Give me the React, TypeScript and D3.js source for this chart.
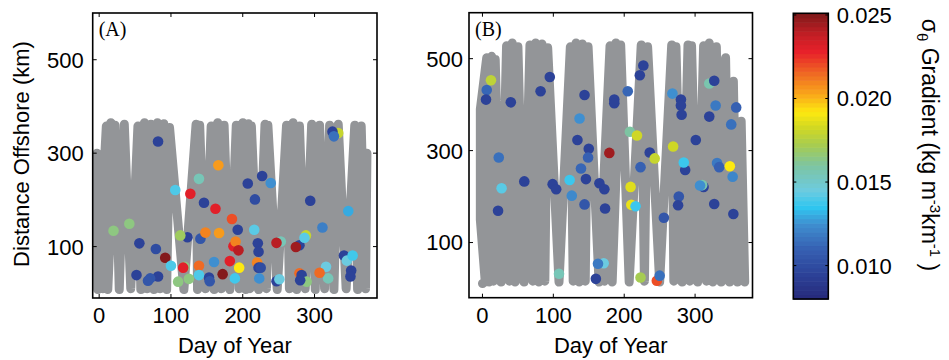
import React from "react";
import * as d3 from "d3";

// ---------- data ----------
const xTicks = [0, 100, 200, 300];
const yTicks = [100, 300, 500];
const cTicks = [0.01, 0.015, 0.02, 0.025];

// colour map (jet-like) stops
const cStops = [0.008, 0.0095, 0.011, 0.0125, 0.0135, 0.0145, 0.016, 0.0172, 0.0183, 0.0192, 0.0203, 0.0215, 0.0228, 0.0238, 0.0251];
const cColors = ["#27297a", "#2c4298", "#3660b2", "#3f8fd0", "#2fc6f0", "#6ccbe0", "#7dc4a2", "#a6cc52", "#d2d822", "#fde910", "#f9a51a", "#ef6a23", "#e8212a", "#c41e25", "#7f1a1a"];

// glider tracks (day, km) ; NaN = break
const trackADay = [-3, -2, 10, 5, 16, 12, 22, 28, 35, 44, 54, 58, 63, 67, 72, 76, 81, 85, 90, 94, 98, 118, 135, 137, 140, 148, 156, 160, 165, 170, 174, 182, 191, 195, 200, 204, 208, 210, 212, 222, 231, 233, 235, 248, 261, 265, 270, 275, 279, 287, 296, 301, 307, 314, 321, 327, 333, 344, 356, 360, 365, 371, 373];
const trackADist = [300, 8, 358, 10, 365, 8, 360, 8, 362, 10, 358, 8, 365, 10, 362, 8, 365, 10, 363, 8, 355, 8, 362, 8, 360, 10, 358, 8, 365, 10, 360, 8, 360, 10, 365, 8, 363, 10, 358, 8, 362, 10, 360, 8, 360, 10, 365, 8, 358, 10, 362, 8, 360, 10, 360, 8, 362, 10, 360, 8, 358, 10, 300];

const trackBDay = [0, 0.3, NaN, 4, -3, -3, 6, 9.5, 13, 15.5, 18, 26, 34, 38, 42, 46, 50, 58.5, 67, 71, 75, 79.5, 84, 88, 92, 108, 124, 128, 132, 136.5, 141, 145, 149, 164.5, 180, 172, 188, 183, 195, 207, 224, 228.5, 233, 250, 267, 270, 273, 281.5, 290, 292.5, 295, 303.5, 312, 316, 320, 325, 330, 336.5, 343, 348.5, 354, 359.5, 365, 370];
const trackBDist = [11, 11, NaN, 14, 150, 390, 502, 14, 505, 16, 498, 14, 528, 16, 534, 14, 526, 14, 530, 16, 534, 14, 532, 16, 524, 14, 526, 16, 534, 14, 532, 16, 526, 14, 528, 16, 534, 14, 530, 14, 530, 16, 526, 14, 530, 16, 526, 14, 530, 16, 528, 14, 528, 16, 534, 14, 526, 14, 502, 14, 451, 14, 364, 14];

// panel A profiles
const aDay = [82, 166, 139, 106, 127, 146, 162, 207, 227, 239, 217, 294, 333, 325, 327, 347, 20, 42, 123, 113, 141, 148, 167, 185, 193, 216, 56, 79, 92, 100, 119, 117, 139, 160, 182, 187, 190, 194, 195, 221, 222, 220, 222, 225, 253, 247, 279, 274, 288, 286, 311, 341, 345, 353, 351, 350, 316, 319, 307, 279, 282, 289, 280, 247, 251, 223, 189, 172, 153, 154, 139, 125, 110, 82, 71, 68, 52];
const aDist = [325, 274, 245, 221, 213, 194, 181, 235, 251, 236, 201, 198, 343, 346, 336, 176, 134, 149, 120, 124, 117, 130, 129, 159, 136, 136, 107, 95, 76, 59, 57, 55, 59, 67, 69, 101, 111, 92, 55, 107, 89, 66, 55, 55, 111, 108, 103, 99, 124, 119, 141, 81, 70, 81, 49, 36, 57, 32, 44, 43, 39, 25, 28, 26, 30, 32, 32, 41, 34, 26, 39, 31, 25, 36, 32, 27, 39];
const aGrad = [0.0095, 0.0205, 0.0155, 0.014, 0.023, 0.0095, 0.023, 0.0095, 0.0095, 0.0125, 0.01, 0.0095, 0.018, 0.0095, 0.0115, 0.013, 0.0165, 0.0165, 0.0095, 0.017, 0.0105, 0.021, 0.0205, 0.022, 0.0095, 0.0142, 0.0095, 0.01, 0.025, 0.014, 0.0165, 0.023, 0.0215, 0.0125, 0.023, 0.023, 0.021, 0.024, 0.0192, 0.0095, 0.0095, 0.021, 0.0095, 0.01, 0.0155, 0.024, 0.0095, 0.0245, 0.018, 0.0142, 0.012, 0.0095, 0.0145, 0.0138, 0.0095, 0.0095, 0.0145, 0.0155, 0.0215, 0.0215, 0.0095, 0.0165, 0.0095, 0.0095, 0.0145, 0.0125, 0.0138, 0.025, 0.0095, 0.0105, 0.014, 0.0165, 0.0165, 0.0095, 0.0105, 0.0105, 0.0095];

// panel B profiles
const bDay = [12, 6, 5, 40, 82, 95, 144, 137, 23, 27, 22, 59, 99, 104, 123, 126, 134, 150, 149, 139, 146, 144, 165, 172, 173, 179, 186, 186, 205, 222, 227, 208, 218, 209, 210, 216, 236, 223, 243, 268, 280, 280, 281, 269, 286, 284, 277, 276, 256, 301, 320, 327, 329, 320, 351, 358, 331, 334, 349, 353, 312, 310, 307, 327, 354, 108, 171, 163, 160, 223, 246, 250];
const bDist = [453, 432, 411, 405, 429, 460, 421, 370, 285, 218, 169, 233, 227, 216, 236, 202, 323, 304, 285, 261, 238, 183, 229, 216, 174, 295, 411, 403, 429, 464, 485, 341, 333, 221, 182, 179, 296, 264, 283, 424, 411, 398, 378, 309, 258, 274, 200, 181, 154, 323, 446, 452, 398, 374, 357, 394, 273, 264, 266, 243, 221, 225, 224, 184, 162, 32, 55, 54, 21, 24, 17, 28];
const bGrad = [0.0178, 0.0112, 0.0095, 0.0095, 0.0095, 0.0095, 0.0095, 0.0125, 0.0115, 0.0142, 0.0095, 0.0095, 0.0095, 0.0095, 0.0137, 0.0123, 0.0095, 0.0095, 0.011, 0.0112, 0.0095, 0.0105, 0.0095, 0.0095, 0.0095, 0.0245, 0.0095, 0.0095, 0.0112, 0.0095, 0.0095, 0.016, 0.0182, 0.0186, 0.0188, 0.0137, 0.0095, 0.011, 0.018, 0.0125, 0.0095, 0.0095, 0.0095, 0.0182, 0.0095, 0.0137, 0.0105, 0.0095, 0.0105, 0.0095, 0.0157, 0.0095, 0.0118, 0.0095, 0.0115, 0.011, 0.0118, 0.011, 0.0192, 0.0122, 0.0095, 0.0157, 0.0125, 0.0095, 0.0095, 0.0155, 0.0145, 0.0118, 0.0095, 0.0172, 0.022, 0.0115];

// ---------- layout ----------
const SANS = "'Liberation Sans', Arial, Helvetica, sans-serif";
const SERIF = "'Liberation Serif', 'Times New Roman', serif";
const FS = 22;
const TRACK = "#939598";

const layoutA = { left: 92.7, right: 377, top: 13, bottom: 298, xDom: [-9, 387], yDom: [-10, 600], yLabGap: 9 };
const layoutB = { left: 469, right: 752.5, top: 12.7, bottom: 297.7, xDom: [-19, 381], yDom: [-20, 600], yLabGap: 6 };
const cbar = { left: 793.3, right: 828.3, top: 13.3, bottom: 299, dom: [0.008, 0.0251] };

const color = d3.scaleLinear<string>().domain(cStops).range(cColors).interpolate(d3.interpolateRgb).clamp(true);

function Panel({ L, tDay, tDist, dDay, dDist, dVal, label }) {
  const x = d3.scaleLinear().domain(L.xDom).range([L.left, L.right]);
  const y = d3.scaleLinear().domain(L.yDom).range([L.bottom, L.top]);
  const pts = tDay.map((d, i) => [d, tDist[i]]);
  const line = d3.line().defined((p) => !isNaN(p[0]) && !isNaN(p[1])).x((p) => x(p[0])).y((p) => y(p[1]));
  const tl = 4;
  return (
    <g>
      <path d={line(pts) || ""} fill="none" stroke={TRACK} strokeWidth={9} strokeLinecap="round" strokeLinejoin="round" />
      {dDay.map((d, i) => (
        <circle key={i} cx={x(d)} cy={y(dDist[i])} r={5.3} fill={color(dVal[i])} />
      ))}
      <rect x={L.left} y={L.top} width={L.right - L.left} height={L.bottom - L.top} fill="none" stroke="#000" strokeWidth={1.6} />
      {xTicks.map((t) => (
        <g key={"x" + t}>
          <line x1={x(t)} x2={x(t)} y1={L.bottom} y2={L.bottom - tl} stroke="#000" strokeWidth={1} />
          <line x1={x(t)} x2={x(t)} y1={L.top} y2={L.top + tl} stroke="#000" strokeWidth={1} />
          <text x={x(t)} y={L.bottom + 25} textAnchor="middle" fontFamily={SANS} fontSize={FS}>{t}</text>
        </g>
      ))}
      {yTicks.map((t) => (
        <g key={"y" + t}>
          <line x1={L.left} x2={L.left + tl} y1={y(t)} y2={y(t)} stroke="#000" strokeWidth={1} />
          <line x1={L.right} x2={L.right - tl} y1={y(t)} y2={y(t)} stroke="#000" strokeWidth={1} />
          <text x={L.left - L.yLabGap} y={y(t)} dy="0.36em" textAnchor="end" fontFamily={SANS} fontSize={FS}>{t}</text>
        </g>
      ))}
      <text x={L.left + 6} y={L.top + 23} fontFamily={SERIF} fontSize={20}>{label}</text>
      <text x={(L.left + L.right) / 2} y={353} textAnchor="middle" fontFamily={SANS} fontSize={FS}>Day of Year</text>
    </g>
  );
}

function ColorBar() {
  const y = d3.scaleLinear().domain(cbar.dom).range([cbar.bottom, cbar.top]);
  const n = 64;
  const step = (cbar.dom[1] - cbar.dom[0]) / n;
  const bands = d3.range(n).map((i) => cbar.dom[0] + i * step);
  return (
    <g>
      {bands.map((v, i) => (
        <rect key={i} x={cbar.left} y={y(v + step)} width={cbar.right - cbar.left} height={y(v) - y(v + step) + 0.6} fill={color(v + step / 2)} />
      ))}
      <rect x={cbar.left} y={cbar.top} width={cbar.right - cbar.left} height={cbar.bottom - cbar.top} fill="none" stroke="#000" strokeWidth={1.6} />
      {cTicks.map((t) => (
        <g key={t}>
          <line x1={cbar.left} x2={cbar.left + 3} y1={y(t)} y2={y(t)} stroke="#000" />
          <line x1={cbar.right} x2={cbar.right - 3} y1={y(t)} y2={y(t)} stroke="#000" />
          <text x={cbar.right + 8.5} y={y(t)} dy="0.36em" fontFamily={SANS} fontSize={FS}>{t.toFixed(3)}</text>
        </g>
      ))}
      <text transform="translate(922,145) rotate(90)" textAnchor="middle" fontFamily={SANS} fontSize={23}>
        σ<tspan dy="5" fontSize={15}>θ</tspan>
        <tspan dy="-5">  Gradient (kg m</tspan>
        <tspan dy="-8" fontSize={15}>-3</tspan>
        <tspan dy="8">km</tspan>
        <tspan dy="-8" fontSize={15}>-1</tspan>
        <tspan dy="8"> )</tspan>
      </text>
    </g>
  );
}

export default function App() {
  return (
    <svg width={949} height={360} style={{ position: "absolute", left: 0, top: 0, background: "#fff" }}>
      <rect width={949} height={360} fill="#fff" />
      <Panel L={layoutA} tDay={trackADay} tDist={trackADist} dDay={aDay} dDist={aDist} dVal={aGrad} label="(A)" />
      <Panel L={layoutB} tDay={trackBDay} tDist={trackBDist} dDay={bDay} dDist={bDist} dVal={bGrad} label="(B)" />
      <text transform="translate(28.5,154) rotate(-90)" textAnchor="middle" fontFamily={SANS} fontSize={FS}>Distance Offshore (km)</text>
      <ColorBar />
    </svg>
  );
}
